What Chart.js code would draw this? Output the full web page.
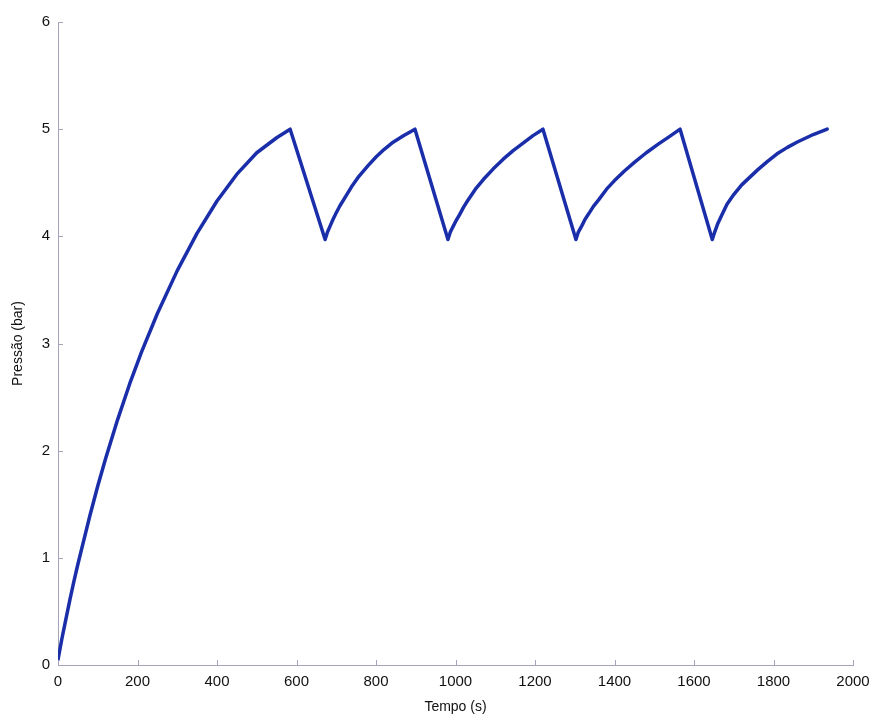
<!DOCTYPE html>
<html>
<head>
<meta charset="utf-8">
<script src="https://cdn.jsdelivr.net/npm/chart.js@4"></script>
<style>
    body { margin: 0; background: #fff; }
    #chart { display: block; }
</style>
</head>
<body>
<canvas id="chart" width="879" height="716"></canvas>
<script>
// tempo (s) e pressão (bar)
const tempo = [
    0, 10, 20, 30, 40, 50, 60, 80, 100, 120, 150, 180, 210, 250, 300, 350, 400, 450, 500, 550, 584,
    672, 678, 685, 692, 700, 710, 720, 738, 757, 780, 800, 820, 840, 870, 898,
    981, 987, 995, 1002, 1010, 1020, 1030, 1050, 1070, 1095, 1120, 1145, 1170, 1195, 1220,
    1303, 1309, 1318, 1326, 1335, 1347, 1360, 1380, 1400, 1425, 1450, 1480, 1510, 1538, 1565,
    1646, 1652, 1660, 1670, 1683, 1700, 1720, 1740, 1760, 1785, 1809, 1835, 1860, 1900, 1935
];
const pressao = [
    0.05, 0.25, 0.43, 0.61, 0.78, 0.94, 1.09, 1.39, 1.67, 1.93, 2.29, 2.62, 2.92, 3.28, 3.68, 4.03, 4.33, 4.58, 4.78, 4.92, 5.0,
    3.97, 4.04, 4.1, 4.16, 4.22, 4.29, 4.35, 4.46, 4.56, 4.66, 4.74, 4.81, 4.87, 4.94, 5.0,
    3.97, 4.04, 4.1, 4.15, 4.2, 4.27, 4.33, 4.44, 4.53, 4.63, 4.72, 4.8, 4.87, 4.94, 5.0,
    3.97, 4.04, 4.1, 4.16, 4.21, 4.28, 4.34, 4.44, 4.52, 4.61, 4.69, 4.78, 4.86, 4.93, 5.0,
    3.97, 4.04, 4.12, 4.2, 4.3, 4.39, 4.48, 4.55, 4.62, 4.7, 4.77, 4.83, 4.88, 4.95, 5.0
];
const xTicks = [0, 200, 400, 600, 800, 1000, 1200, 1400, 1600, 1800, 2000];
const yTicks = [0, 1, 2, 3, 4, 5, 6];

const axisColor = "#a4a4b8";
const fontFamily = "'Liberation Sans', Arial, sans-serif";

// pequenos traços para dentro, como no MATLAB
const innerTicks = {
    id: "innerTicks",
    afterDraw(chart) {
        const ctx = chart.ctx;
        const x = chart.scales.x;
        const y = chart.scales.y;
        ctx.save();
        ctx.strokeStyle = axisColor;
        ctx.lineWidth = 1;
        xTicks.forEach((v) => {
            const px = Math.round(x.getPixelForValue(v)) + 0.5;
            ctx.beginPath();
            ctx.moveTo(px, y.bottom);
            ctx.lineTo(px, y.bottom - 5);
            ctx.stroke();
        });
        yTicks.forEach((v) => {
            const py = Math.round(y.getPixelForValue(v)) + 0.5;
            ctx.beginPath();
            ctx.moveTo(x.left, py);
            ctx.lineTo(x.left + 5, py);
            ctx.stroke();
        });
        ctx.restore();
    },
};

new Chart(document.getElementById("chart"), {
    type: "scatter",
    data: {
        datasets: [
            {
                data: tempo.map((t, i) => ({ x: t, y: pressao[i] })),
                showLine: true,
                borderColor: "#1a2eaa",
                borderWidth: 3.5,
                pointRadius: 0,
                tension: 0,
                borderJoinStyle: "round",
                borderCapStyle: "round",
            },
        ],
    },
    options: {
        responsive: false,
        animation: false,
        layout: { padding: { top: 22, right: 26, left: 0, bottom: 0 } },
        plugins: { legend: { display: false }, tooltip: { enabled: false } },
        scales: {
            x: {
                type: "linear",
                min: 0,
                max: 2000,
                afterFit(scale) { scale.height = 51; },
                afterBuildTicks(scale) { scale.ticks = xTicks.map((v) => ({ value: v })); },
                grid: { display: false },
                border: { display: true, color: axisColor, width: 1 },
                ticks: {
                    color: "#111",
                    padding: 0,
                    font: { family: fontFamily, size: 15 },
                    callback: (v) => String(v),
                },
                title: {
                    display: true,
                    text: "Tempo (s)",
                    color: "#111",
                    padding: { top: 0, bottom: 0 },
                    font: { family: fontFamily, size: 14 },
                },
            },
            y: {
                min: 0,
                max: 6,
                afterFit(scale) { scale.width = 58; },
                afterBuildTicks(scale) { scale.ticks = yTicks.map((v) => ({ value: v })); },
                grid: { display: false },
                border: { display: true, color: axisColor, width: 1 },
                ticks: {
                    color: "#111",
                    padding: 0,
                    font: { family: fontFamily, size: 15 },
                    callback: (v) => String(v),
                },
                title: {
                    display: true,
                    text: "Pressão (bar)",
                    color: "#111",
                    padding: { top: 10, bottom: 0 },
                    font: { family: fontFamily, size: 14 },
                },
            },
        },
    },
    plugins: [innerTicks],
});
</script>
</body>
</html>
